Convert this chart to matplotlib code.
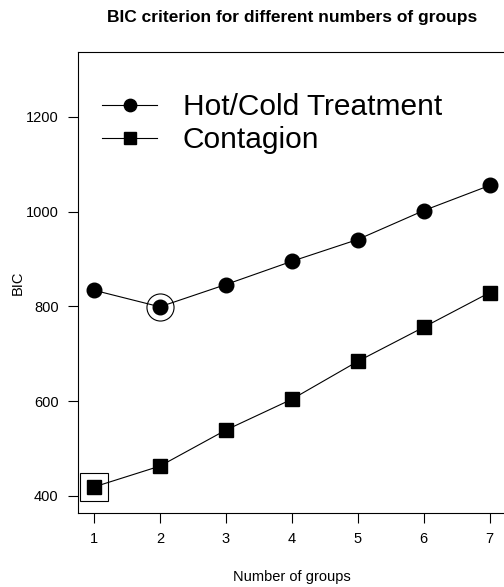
import matplotlib
matplotlib.use("Agg")
import matplotlib.pyplot as plt

plt.rcParams["font.family"] = ["Liberation Sans", "DejaVu Sans"]

groups = [1, 2, 3, 4, 5, 6, 7]
bic_hotcold = [834, 799, 846, 895, 941, 1002, 1055]
bic_contagion = [419, 463, 539, 604, 684, 756, 829]
y_ticks = [400, 600, 800, 1000, 1200]

best_hotcold = 2
best_contagion = 1

fig = plt.figure(figsize=(5.04, 5.87), dpi=100)
ax = fig.add_axes([0.155, 0.126, 0.848, 0.785])

ax.plot(groups, bic_hotcold, color="black", lw=0.8, marker="o",
        markersize=10.5, label="Hot/Cold Treatment")
ax.plot(groups, bic_contagion, color="black", lw=0.8, marker="s",
        markersize=10, label="Contagion")

# mark the minimum of each curve
i = groups.index(best_hotcold)
ax.plot(best_hotcold, bic_hotcold[i], marker="o", markersize=19.5,
        mfc="none", mec="black", mew=0.8, ls="none")
i = groups.index(best_contagion)
ax.plot(best_contagion, bic_contagion[i], marker="s", markersize=19.5,
        mfc="none", mec="black", mew=0.8, ls="none")

ax.set_xlim(0.76, 7.24)
ax.set_ylim(364, 1336)
ax.set_xticks(groups)
ax.set_yticks(y_ticks)
ax.tick_params(direction="out", length=7, width=0.8, labelsize=10.5, pad=7)

for s in ax.spines.values():
    s.set_linewidth(0.8)

ax.set_xlabel("Number of groups", fontsize=10.5, labelpad=17)
ax.set_ylabel("BIC", fontsize=10.5)
ax.yaxis.set_label_coords(-0.125, 0.5)
ax.set_title("BIC criterion for different numbers of groups",
             fontsize=12.5, fontweight="bold", pad=22)

ax.legend(loc="upper left", bbox_to_anchor=(0.028, 0.937), frameon=False,
          fontsize=21.5, handlelength=1.85, handletextpad=0.85,
          labelspacing=0.17, borderaxespad=0, markerscale=0.85)

fig.savefig("out.png", dpi=100)
